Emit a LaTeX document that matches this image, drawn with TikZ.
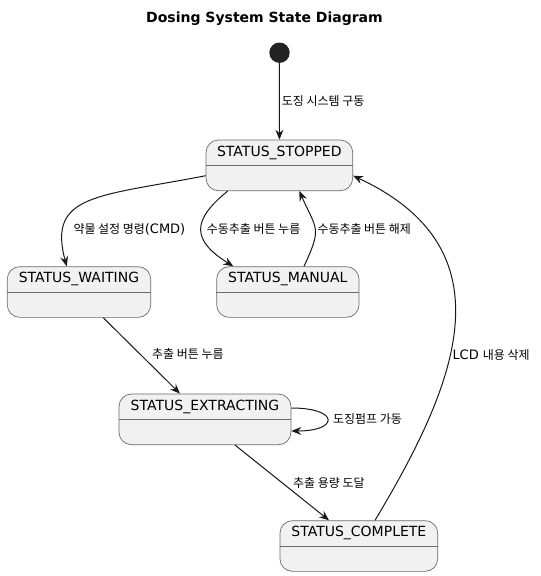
\documentclass[tikz,border=0pt]{standalone}
\usepackage{fontspec}
\setmainfont{DejaVu Sans}
\newfontfamily\kr{Noto Sans CJK KR}[Scale=0.92]
\usetikzlibrary{arrows.meta, positioning}
\definecolor{statefill}{HTML}{F1F1F1}
\definecolor{borderc}{HTML}{6B6B6B}
\definecolor{linec}{HTML}{181818}
\definecolor{startc}{HTML}{222222}
\tikzset{
  state/.style={draw=borderc, fill=statefill, line width=0.7pt, rounded corners=12.5pt, minimum height=50.7pt, inner sep=0pt},
  statename/.style={font=\fontsize{14}{16}\selectfont, inner sep=0pt},
  divider/.style={draw=borderc, line width=0.7pt},
  trans/.style={->, draw=linec, line width=1pt},
  translabel/.style={anchor=west, inner sep=0pt, font=\fontsize{13}{15}\selectfont},
  >={Stealth[length=10pt, width=8pt, inset=3.5pt]}
}

\begin{document}
\begin{tikzpicture}[x=1pt, y=1pt]
    \useasboundingbox (0,0) rectangle (541,-576);

    % Title and start point
    \node[font=\bfseries\fontsize{14}{16}\selectfont] (title) at (264.5,-18.3) {Dosing System State Diagram};
    \node[circle, fill=startc, minimum size=20.4pt, inner sep=0pt] (init) at (279.5,-52.7) {};

    % Draw the states
    \foreach \s/\x/\y/\w/\t in {stopped/279.35/-165.35/146.7/STATUS\_STOPPED,
        waiting/79/-292/143.4/STATUS\_WAITING, manual/287.85/-292/142.3/STATUS\_MANUAL,
        extracting/205/-419.35/172/STATUS\_EXTRACTING, complete/358.85/-546/157.7/STATUS\_COMPLETE} {
        \node[state, minimum width=\w pt] (\s) at (\x,\y) {};
        \node[statename] (\s-name) at ([yshift=-13pt]\s.north) {\t};
        \draw[divider] ([yshift=-26pt]\s.north west) -- ([yshift=-26pt]\s.north east);
    }

    % Transitions
    \draw[trans] (init) -- (stopped);
    \draw[trans] ([yshift=-10.35pt]stopped.west) to[out=191, in=105, out distance=110pt, in distance=75pt] ([xshift=-12.3pt]waiting.north);
    \draw[trans] ([xshift=-51.65pt]stopped.south) to[out=219, in=148, distance=48pt] ([xshift=-54.55pt]manual.north);
    \draw[trans] ([xshift=16.15pt]manual.north) to[out=65, in=-66, distance=43pt] ([xshift=19.95pt]stopped.south);
    \draw[trans] ([xshift=24.3pt]waiting.south) -- ([xshift=-25pt]extracting.north);
    \draw[trans] ([yshift=11.35pt]extracting.east) to[out=0, in=0, distance=48pt] ([yshift=-11.65pt]extracting.east);
    \draw[trans] ([xshift=30pt]extracting.south) -- ([xshift=-29.85pt]complete.north);
    \draw[trans] ([xshift=16.15pt]complete.north) to[out=59, in=-25, out distance=160pt, in distance=175pt] ([yshift=-10.35pt]stopped.east);

    % Transition labels
    \foreach \n/\x/\y/\t in {start/281.7/-101/{{\kr 도징 시스템 구동}},
        setcmd/73.3/-229/{{\kr 약물 설정 명령}(CMD)}, manon/206.7/-229/{{\kr 수동추출 버튼 누름}},
        manoff/317.3/-229/{{\kr 수동추출 버튼 해제}}, extract/152/-354/{{\kr 추출 버튼 누름}},
        pump/333/-419/{{\kr 도징펌프 가동}}, done/293/-483/{{\kr 추출 용량 도달}},
        clear/452.3/-355/{LCD {\kr 내용 삭제}}} {
        \node[translabel] (lbl-\n) at (\x,\y) {\t};
    }
\end{tikzpicture}
\end{document}
